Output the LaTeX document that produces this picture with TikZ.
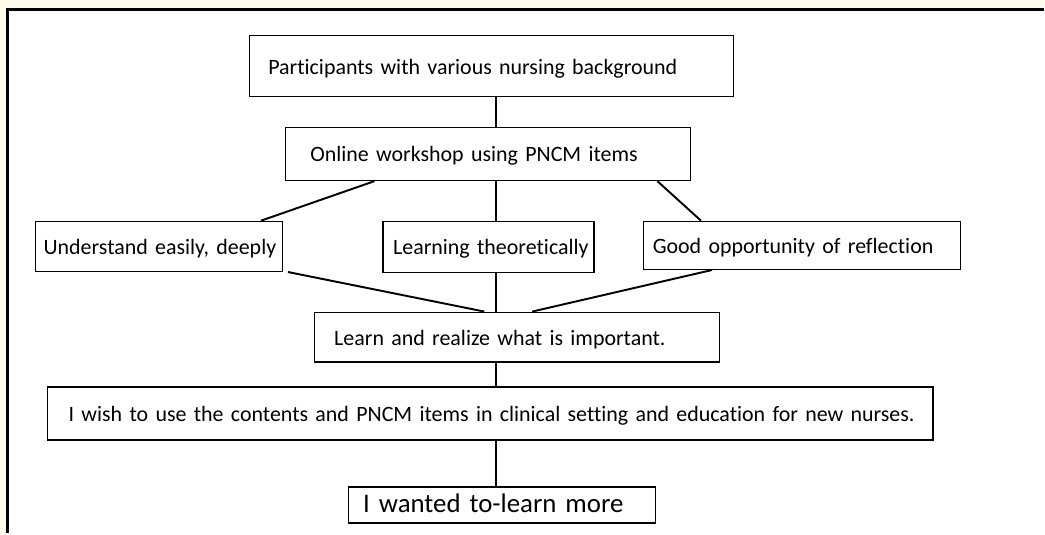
\documentclass[tikz,border=0pt]{standalone}
\usepackage{fontspec}
\setmainfont{Carlito}[Ligatures=NoCommon]
\usetikzlibrary{positioning, calc}

\definecolor{paper}{RGB}{255,251,234}

\tikzset{
  stage/.style={draw, line width=0.8pt, anchor=north west, inner ysep=0pt,
    text height=1em, text depth=0.1em,
    font=\fontsize{12.5}{15}\selectfont,
    execute at begin node=\hbox\bgroup, execute at end node=\egroup},
  link/.style={line width=1.1pt},
}

\begin{document}
\begin{tikzpicture}[x=0.02cm, y=-0.02cm]
  % page and frame
  \fill[paper] (0,0) rectangle (1045,534);
  \fill[white] (8,10) rectangle (1045,534);
  \draw[line width=1.7pt] (8,534) -- (8,10) -- (1045,10);
  \useasboundingbox (0,0) rectangle (1045,534);

  \coordinate (spine) at (497,0);

  % boxes
  \node[stage, text width=8.94cm, inner xsep=0.38cm, minimum height=1.22cm] (bg) at (249,35) {Participants with various nursing background};
  \node[stage, text width=7.12cm, inner xsep=0.5cm, minimum height=1.06cm] (ws) at (285,127) {Online workshop using PNCM items};

  \node[stage, text width=4.62cm, inner xsep=0.16cm, minimum height=1cm] (ue) at (35,221) {Understand easily, deeply};
  \node[stage, text width=3.82cm, inner xsep=0.2cm, minimum height=1.02cm] (lt) at (383,221) {Learning theoretically};
  \node[stage, text width=5.98cm, inner xsep=0.18cm, minimum height=0.96cm] (gr) at (644,221) {Good opportunity of reflection};

  \node[stage, text width=7.32cm, inner xsep=0.4cm, minimum height=1cm] (lr) at (314,312) {Learn and realize what is important.};
  \node[stage, text width=16.9cm, inner xsep=0.42cm, minimum height=1.06cm] (use) at (47,387) {I wish to use the contents and PNCM items in clinical setting and education for new nurses.};
  \node[stage, text width=5.56cm, inner xsep=0.3cm, minimum height=0.72cm, font=\fontsize{15.3}{18}\selectfont] (more) at (348,487) {I wanted to-learn more};

  % connectors
  \draw[link] (bg.south -| spine) -- (ws.north -| spine);
  \draw[link] ([xshift=1.8cm]ws.south west) -- ([xshift=-0.44cm]ue.north east);
  \draw[link] (ws.south -| spine) -- (lt.north -| spine);
  \draw[link] ([xshift=-0.68cm]ws.south east) -- ([xshift=1.16cm]gr.north west);

  \draw[link] ([xshift=0.1cm]ue.south east) -- ($(lr.north -| spine)+(-12,0)$);
  \draw[link] (lt.south -| spine) -- (lr.north -| spine);
  \draw[link] ([xshift=1.38cm]gr.south west) -- ($(lr.north -| spine)+(36,0)$);

  \draw[link] (lr.south -| spine) -- (use.north -| spine);
  \draw[link] (use.south -| spine) -- (more.north -| spine);
\end{tikzpicture}
\end{document}
